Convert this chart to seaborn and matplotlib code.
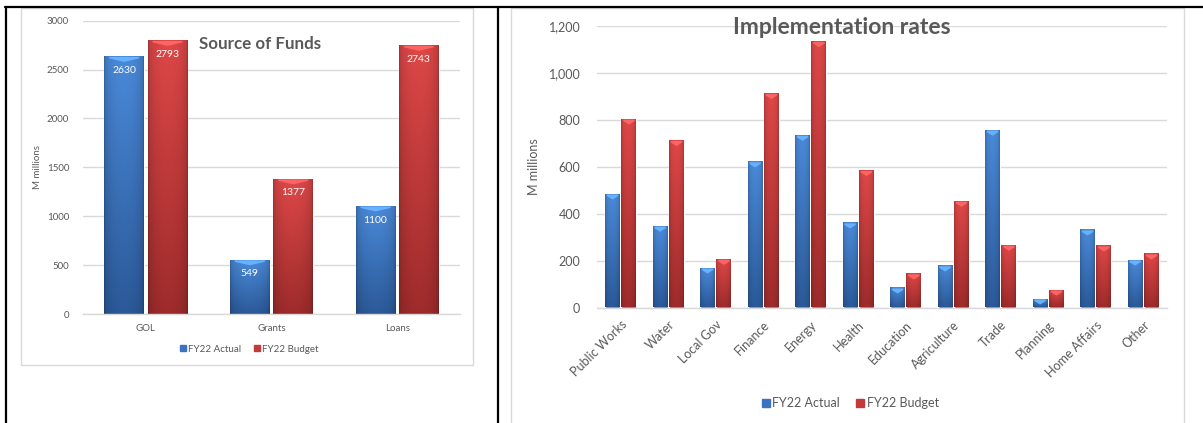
import numpy as np
import pandas as pd
import matplotlib
matplotlib.use("Agg")
import matplotlib.pyplot as plt
import seaborn as sns
from matplotlib.patches import Rectangle, Polygon
from matplotlib.lines import Line2D
from matplotlib.ticker import FuncFormatter, MultipleLocator

# ---- data -------------------------------------------------------------
series_names = ["FY22 Actual", "FY22 Budget"]

fund_sources = ["GOL", "Grants", "Loans"]
fund_actual = [2630, 549, 1100]
fund_budget = [2793, 1377, 2743]

sectors = ["Public Works", "Water", "Local Gov", "Finance", "Energy", "Health",
           "Education", "Agriculture", "Trade", "Planning", "Home Affairs", "Other"]
sector_actual = [481, 344, 166, 618, 731, 358, 81, 175, 753, 34, 328, 200]
sector_budget = [800, 709, 203, 909, 1130, 581, 141, 450, 263, 72, 260, 226]

# ---- style ------------------------------------------------------------
sns.set_theme(style="white")
plt.rcParams["font.family"] = ["Lato", "DejaVu Sans"]

BLUE_TOP, BLUE_BOT = np.array([0.29, 0.54, 0.85]), np.array([0.17, 0.35, 0.60])
RED_TOP, RED_BOT = np.array([0.87, 0.28, 0.28]), np.array([0.62, 0.17, 0.17])
LEGEND_COLORS = ["#3a74c0", "#c23a3a"]
GRID = "#d9d9d9"
TEXT = "#595959"

W, H = 1203, 423
fig = plt.figure(figsize=(W / 100, H / 100), dpi=100)
fig.patch.set_facecolor("white")


def fx(px):
    return px / W


def fy(py):
    return 1 - py / H


def add_axes(left, right, top, bottom):
    return fig.add_axes([fx(left), fy(bottom), (right - left) / W, (bottom - top) / H])


def shade(ax, container, top_rgb, bot_rgb):
    """Paint each bar with a bevel-like gradient and a light top chevron."""
    ax_h_px = ax.get_window_extent().height
    y0, y1 = ax.get_ylim()
    per_px = (y1 - y0) / ax_h_px
    nx, ny = 40, 80
    xs = np.linspace(0, 1, nx)
    edge = 0.74 + 0.26 * np.sin(np.pi * xs) ** 0.35
    for bar in container.patches:
        x0, w, h = bar.get_x(), bar.get_width(), bar.get_height()
        t = np.linspace(0, 1, ny)[:, None, None]
        col = top_rgb * (1 - t) + bot_rgb * t
        img = np.clip(col * edge[None, :, None], 0, 1)
        ax.imshow(img, extent=(x0, x0 + w, 0, h), aspect="auto", origin="upper",
                  interpolation="bilinear", zorder=2)
        d1, d2 = 1.5 * per_px, 5 * per_px
        inset = 0.12 * w
        light = np.clip(top_rgb * 1.18 + 0.06, 0, 1)
        ax.add_patch(Polygon([(x0 + inset, h), (x0 + w - inset, h),
                              (x0 + w - inset, h - d1), (x0 + w / 2, h - d2),
                              (x0 + inset, h - d1)],
                             closed=True, fc=light, ec="none", zorder=2.5))


def panel(ax, cats, actual, budget, ymax, step, tick_fs, fmt):
    n = len(cats)
    df = pd.DataFrame({
        "category": cats * 2,
        "value": actual + budget,
        "series": [series_names[0]] * n + [series_names[1]] * n,
    })
    sns.barplot(data=df, x="category", y="value", hue="series",
                palette=LEGEND_COLORS, width=0.69, gap=0.09, saturation=1,
                errorbar=None, legend=False, ax=ax)
    ax.set_xlim(-0.5, n - 0.5)
    ax.set_ylim(0, ymax)
    ax.yaxis.set_major_locator(MultipleLocator(step))
    ax.yaxis.set_major_formatter(FuncFormatter(fmt))
    ax.yaxis.grid(True, color=GRID, lw=1)
    ax.set_axisbelow(True)
    for s in ["top", "right", "left"]:
        ax.spines[s].set_visible(False)
    ax.spines["bottom"].set_color(GRID)
    ax.spines["bottom"].set_linewidth(1)
    ax.tick_params(axis="both", length=0, labelsize=tick_fs, labelcolor=TEXT)
    ax.set_xlabel("")
    ax.set_facecolor("none")
    shade(ax, ax.containers[0], BLUE_TOP, BLUE_BOT)
    shade(ax, ax.containers[1], RED_TOP, RED_BOT)
    ax.set_xlim(-0.5, n - 0.5)
    ax.set_ylim(0, ymax)


def legend(x, y, fs):
    handles = [Line2D([], [], marker="s", ls="none", color=c, markersize=fs * 0.6)
               for c in LEGEND_COLORS]
    fig.legend(handles, series_names, loc="center", bbox_to_anchor=(fx(x), fy(y)),
               ncol=2, frameon=False, fontsize=fs, labelcolor=TEXT,
               handletextpad=0.15, columnspacing=1.3, handlelength=0.7)


# ---- chart frames and table rules ---------------------------------------
fig.add_artist(Rectangle((fx(21), fy(365)), 452 / W, 357 / H, transform=fig.transFigure,
                         fill=False, ec=GRID, lw=1))
fig.add_artist(Rectangle((fx(511), fy(440)), 673 / W, 432 / H, transform=fig.transFigure,
                         fill=False, ec=GRID, lw=1))
for xs_, ys_ in [([fx(5), 1.0], [fy(7), fy(7)]),
                 ([fx(6), fx(6)], [fy(7), 0]),
                 ([fx(497.5), fx(497.5)], [fy(7), 0])]:
    fig.add_artist(Line2D(xs_, ys_, color="black", lw=1.6, transform=fig.transFigure))

# ---- left: source of funds ------------------------------------------------
ax1 = add_axes(83, 460, 20.7, 314)
panel(ax1, fund_sources, fund_actual, fund_budget, 3000, 500, 7,
      lambda v, p: f"{v:.0f}")
ax1.tick_params(axis="x", pad=7)
ax1.tick_params(axis="y", pad=10)
ax1.set_ylabel("M millions", fontsize=7, color=TEXT)
ax1.yaxis.set_label_coords((42 - 83) / 377, 0.5)
for c in ax1.containers:
    for t in ax1.bar_label(c, fmt="{:.0f}", padding=-13, color="white", fontsize=7.5):
        t.set_zorder(10)
fig.text(fx(260), fy(44), "Source of Funds", ha="center", va="center",
         fontsize=12.2, fontweight="bold", color=TEXT)
legend(249, 349, 7)

# ---- right: implementation rates -------------------------------------------
ax2 = add_axes(597, 1167, 25.7, 307.5)
panel(ax2, sectors, sector_actual, sector_budget, 1200, 200, 9,
      lambda v, p: f"{v:,.0f}")
ax2.tick_params(axis="y", pad=12)
ax2.tick_params(axis="x", pad=8)
plt.setp(ax2.get_xticklabels(), rotation=45, ha="right", rotation_mode="anchor")
ax2.set_ylabel("M millions", fontsize=9, color=TEXT)
ax2.yaxis.set_label_coords((540 - 597) / 570, 0.5)
fig.text(fx(842), fy(28), "Implementation rates", ha="center", va="center",
         fontsize=16.5, fontweight="bold", color=TEXT)
legend(850, 403, 9)

fig.savefig("out.png", dpi=100, facecolor="white")
